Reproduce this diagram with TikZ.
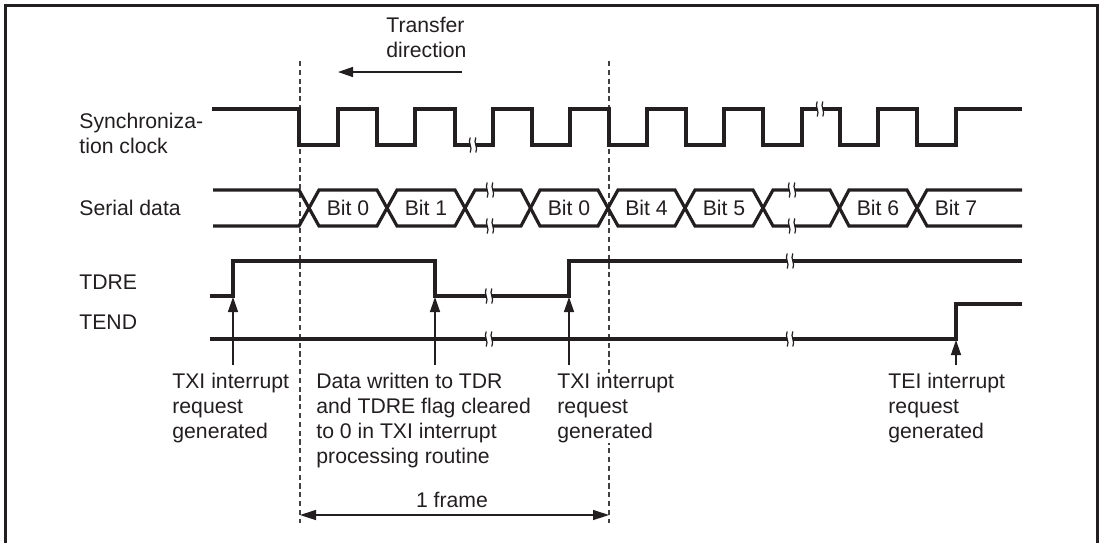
\documentclass[tikz,border=0pt]{standalone}
\usepackage{fontspec}
\setmainfont{Liberation Sans}
\usetikzlibrary{arrows.meta}
\definecolor{ink}{HTML}{231F20}
\begin{document}
\begin{tikzpicture}[x=0.5pt,y=-0.5pt,
  sig/.style={draw=ink, line width=1.6pt, line join=miter},
  dline/.style={draw=ink!85, line width=0.6pt, dash pattern=on 2.6pt off 1.8pt},
  ptr/.style={draw=ink, line width=0.7pt, -{Triangle[length=7.5pt,width=5pt]}},
  txt/.style={inner sep=0pt, text=ink, font=\fontsize{10.6pt}{12.5pt}\selectfont},
  lbl/.style={txt, anchor=north west, align=left, fill=white},
  bitlbl/.style={txt, anchor=center},
  brk/.pic={
    \fill[white] (-2.8,-8) rectangle (2.8,8);
    \draw[ink, line width=0.6pt] (-2.8,-7.5) .. controls (-5.6,-2) and (0,2) .. (-2.8,7.5);
    \draw[ink, line width=0.6pt] (2.8,-7.5) .. controls (0,-2) and (5.6,2) .. (2.8,7.5);
  }]
\useasboundingbox (0,0) rectangle (1103,543);
% frame
\draw[ink, line width=1.5pt] (5.5,543) -- (5.5,5.5) -- (1097.5,5.5) -- (1097.5,543);

% dashed frame markers
\coordinate (d1t) at (300,61);
\coordinate (d1b) at (300,523);
\coordinate (d2t) at (609,61);
\coordinate (d2b) at (609,523);
\draw[dline] (d1t) -- (d1b);
\draw[dline] (d2t) -- (d2b);

% left labels
\node[lbl] (lsync) at (79,113) {Synchroniza-\\tion clock};
\node[lbl] (lser) at (79,200) {Serial data};
\node[lbl] (ltdre) at (79,274.5) {TDRE};
\node[lbl] (ltend) at (79,314.5) {TEND};

% transfer direction
\node[lbl] (tdir) at (386,17) {Transfer\\direction};
\coordinate (dirs) at (462,72);
\coordinate (dire) at (338,72);
\draw[ptr] (dirs) -- (dire);

% clock
\draw[sig] (212,109) -- (299,109) -- (299,145) -- (338,145) -- (338,109) -- (377,109) -- (377,145)
  -- (415,145) -- (415,109) -- (455,109) -- (455,145) -- (493,145) -- (493,109) -- (532,109)
  -- (532,145) -- (570,145) -- (570,109) -- (609,109) -- (609,145) -- (647,145) -- (647,109)
  -- (686,109) -- (686,145) -- (724,145) -- (724,109) -- (763,109) -- (763,145) -- (802,145)
  -- (802,109) -- (840,109) -- (840,145) -- (878,145) -- (878,109) -- (917,109) -- (917,145)
  -- (956,145) -- (956,109) -- (1022,109);
\pic at (473,145) {brk};
\pic at (820,109) {brk};

% serial data
\draw[sig] (213,190) -- (299,190) -- (319,226) -- (377,226) -- (397,190) -- (455,190) -- (475,226)
  -- (521,226) -- (540,190) -- (598,190) -- (618,226) -- (675,226) -- (695,190) -- (753,190)
  -- (773,226) -- (830,226) -- (849,190) -- (907,190) -- (927,226) -- (1022,226);
\draw[sig] (213,226) -- (299,226) -- (319,190) -- (377,190) -- (397,226) -- (455,226) -- (475,190)
  -- (521,190) -- (540,226) -- (598,226) -- (618,190) -- (675,190) -- (695,226) -- (753,226)
  -- (773,190) -- (830,190) -- (849,226) -- (907,226) -- (927,190) -- (1022,190);
\pic at (490,190) {brk};
\pic at (490,226) {brk};
\pic at (792,190) {brk};
\pic at (792,226) {brk};
\node[bitlbl] (b0) at (348,208) {Bit 0};
\node[bitlbl] (b1) at (426,208) {Bit 1};
\node[bitlbl] (b0b) at (569,208) {Bit 0};
\node[bitlbl] (b4) at (646.5,208) {Bit 4};
\node[bitlbl] (b5) at (724,208) {Bit 5};
\node[bitlbl] (b6) at (878,208) {Bit 6};
\node[bitlbl] (b7) at (956,208) {Bit 7};

% TDRE
\draw[sig] (210,296) -- (233,296) -- (233,261) -- (435,261) -- (435,296) -- (569,296) -- (569,261) -- (1022,261);
\pic at (489,296) {brk};
\pic at (790,261) {brk};

% TEND
\draw[sig] (210,339) -- (956,339) -- (956,304) -- (1022,304);
\pic at (489,339) {brk};
\pic at (790,339) {brk};

% pointer arrows
\coordinate (a1s) at (233,365); \coordinate (a1e) at (233,297);
\coordinate (a2s) at (435,365); \coordinate (a2e) at (435,297);
\coordinate (a3s) at (569,365); \coordinate (a3e) at (569,297);
\coordinate (a4s) at (956,365); \coordinate (a4e) at (956,340);
\draw[ptr] (a1s) -- (a1e);
\draw[ptr] (a2s) -- (a2e);
\draw[ptr] (a3s) -- (a3e);
\draw[ptr] (a4s) -- (a4e);

% bottom texts
\node[lbl] (ttxi1) at (172,373) {TXI interrupt\\request\\generated};
\node[lbl] (tdata) at (316,373) {Data written to TDR\\and TDRE flag cleared\\to 0 in TXI interrupt\\processing routine};
\node[lbl] (ttxi2) at (557,373) {TXI interrupt\\request\\generated};
\node[lbl] (ttei) at (888,373) {TEI interrupt\\request\\generated};

% 1 frame
\coordinate (fl) at (300,515);
\coordinate (fr) at (609,515);
\draw[draw=ink, line width=0.7pt, {Triangle[length=8pt,width=5pt]}-{Triangle[length=8pt,width=5pt]}] (fl) -- (fr);
\node[txt, anchor=base] (tframe) at (452,507) {1 frame};
\end{tikzpicture}
\end{document}
